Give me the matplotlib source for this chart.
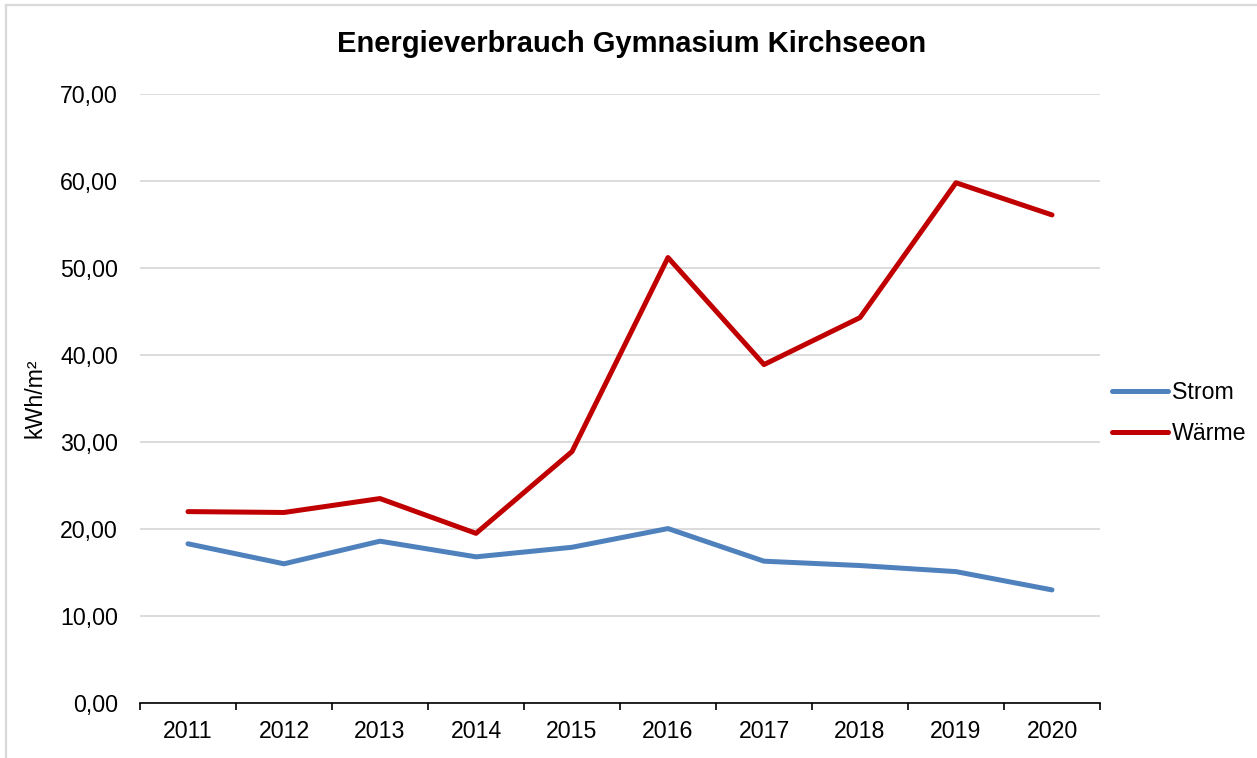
import matplotlib
matplotlib.use("Agg")
import matplotlib.pyplot as plt
import numpy as np
from matplotlib.lines import Line2D
from matplotlib.ticker import FixedLocator, FuncFormatter

plt.rcParams["font.family"] = ["Liberation Sans", "DejaVu Sans"]

years = ["2011", "2012", "2013", "2014", "2015", "2016", "2017", "2018", "2019", "2020"]
strom = [18.3, 16.0, 18.6, 16.8, 17.9, 20.05, 16.3, 15.8, 15.1, 13.0]
waerme = [22.0, 21.9, 23.5, 19.5, 28.9, 51.2, 38.9, 44.3, 59.8, 56.1]

W, H = 1257, 758
fig = plt.figure(figsize=(W / 100, H / 100), dpi=100)
ax = fig.add_axes([140 / W, 1 - 703 / H, 960 / W, 609 / H])

x = np.arange(len(years)) + 0.5
ax.plot(x, strom, color="#4F81BD", lw=3.6, solid_capstyle="round", solid_joinstyle="round", label="Strom")
ax.plot(x, waerme, color="#C00000", lw=3.6, solid_capstyle="round", solid_joinstyle="round", label="Wärme")

ax.set_xlim(0, len(years))
ax.set_ylim(0, 70)
ax.set_yticks(np.arange(0, 71, 10))
ax.yaxis.set_major_formatter(FuncFormatter(lambda v, p: f"{v:.2f}".replace(".", ",")))
ax.grid(axis="y", color="#D9D9D9", lw=1.3)
ax.set_axisbelow(True)

# category labels centred, tick marks on the boundaries
ax.xaxis.set_major_locator(FixedLocator(np.arange(len(years) + 1)))
ax.xaxis.set_minor_locator(FixedLocator(x))
ax.set_xticklabels([])
ax.set_xticklabels(years, minor=True)
ax.tick_params(axis="x", which="major", length=5, width=1.2, color="black", direction="out")
ax.tick_params(axis="x", which="minor", length=0, labelsize=16.7, pad=12.5)
ax.tick_params(axis="y", length=0, labelsize=16.7, pad=15.8)

for s in ["left", "right", "top"]:
    ax.spines[s].set_visible(False)
ax.spines["bottom"].set_color("black")
ax.spines["bottom"].set_linewidth(1.2)

fig.text(35 / W, 1 - 398 / H, "kWh/m²", rotation=90, fontsize=16.7, ha="center", va="center")
fig.text(632 / W, 1 - 44 / H, "Energieverbrauch Gymnasium Kirchseeon",
         fontsize=21, fontweight="bold", ha="center", va="center")

fig.legend(loc="center left", bbox_to_anchor=(1112 / W, 1 - 413 / H), frameon=False, fontsize=16.7,
           handlelength=2.4, handletextpad=0.17, labelspacing=0.8, borderpad=0, borderaxespad=0)

# light chart-area border, only top and left edges visible
fig.add_artist(Line2D([6 / W, 6 / W], [0, 1 - 5 / H], transform=fig.transFigure, color="#D9D9D9", lw=1.6))
fig.add_artist(Line2D([6 / W, 1], [1 - 5 / H, 1 - 5 / H], transform=fig.transFigure, color="#D9D9D9", lw=1.6))

fig.savefig("out.png", dpi=100)
